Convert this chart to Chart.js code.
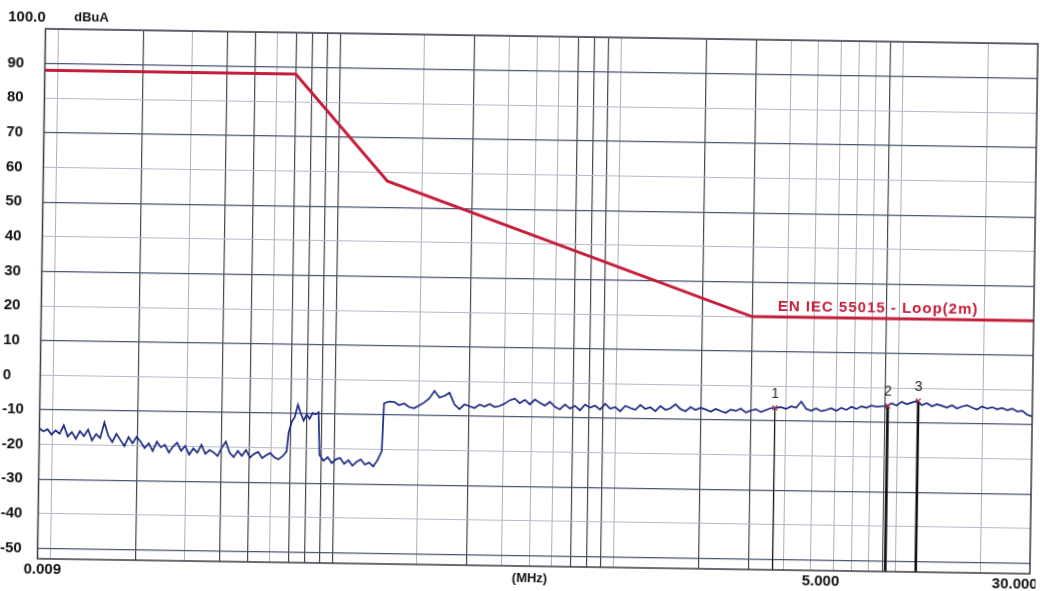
<!DOCTYPE html>
<html>
<head>
<meta charset="utf-8">
<script src="https://cdn.jsdelivr.net/npm/chart.js@4/dist/chart.umd.min.js"></script>
<style>
  html, body { margin: 0; padding: 0; background: #fff; overflow: hidden; }
  #wrap { width: 1040px; height: 591px; }
  /* the original is a slightly skewed scan */
  #grafica { transform: rotate(0.87deg); transform-origin: 50% 50%; }
</style>
</head>
<body>
<div id="wrap"><canvas id="grafica" width="1040" height="591"></canvas></div>
<script>
// ---------------------------------
// datos
// ---------------------------------
const limitFreqs = [0.009, 0.07, 0.15, 3, 30];          // MHz
const limitLevels = [88, 88, 57.5, 20, 20];              // dBuA
const limitName = 'EN IEC 55015 - Loop(2m)';

// barrido del receptor, por tramos (MHz)
const sweepA = [0.009, 0.068];
const levelsA = [-15.4, -16.2, -15.6, -17.1, -15.9, -16.8, -14.4, -17.6,
    -16.3, -18.2, -16.0, -17.4, -15.5, -18.6, -16.8, -17.9, -13.4,
    -17.2, -19.0, -16.6, -18.4, -20.1, -17.5, -19.3,
    -17.4, -18.8, -20.6, -19.2, -21.4, -18.7, -20.3, -19.6, -21.8, -20.0, -18.9,
    -21.2, -19.8, -22.3, -20.5, -21.7, -19.4, -22.0, -20.9, -21.5, -22.6, -20.2, -18.4,
    -21.6, -22.8, -21.0, -22.4, -20.7, -22.9, -21.8, -21.2, -23.0, -22.1, -21.5, -22.7, -23.3, -22.4, -21.0];
const sweepB = [0.069, 0.088];
const levelsB = [-15.5, -12.4, -11.0, -7.4, -9.9, -12.0, -10.2, -11.4, -9.7, -10.1, -9.5];
const sweepC = [0.089, 0.148];
const levelsC = [-21.8, -23.5, -22.4, -24.1, -23.0, -22.6, -24.3, -23.2, -24.8, -23.6, -22.9, -24.4, -23.8, -24.9, -23.1, -20.5];
const sweepD = [0.15, 30];
const levelsD = [-6.6, -6.1, -6.2, -7.1, -6.6, -7.6, -7.9, -7.1, -6.2, -5.0, -2.8, -4.7, -4.2, -3.3, -6.6, -8.0, -6.6, -7.1, -7.6, -6.6, -7.1, -6.4, -7.2, -6.9, -6.2,
    -5.2, -4.7, -6.0, -5.0, -6.3, -4.9, -5.8, -6.6, -5.5,
    -6.9, -7.6, -6.2, -7.3, -6.5, -7.8, -6.1, -7.0, -6.4, -7.5, -5.8, -7.2, -6.7, -7.9, -6.3, -6.9, -7.4, -6.0, -7.1, -6.6, -7.7, -6.2, -7.3, -6.8, -5.6, -7.0, -7.6, -6.4, -7.2, -6.5,
    -7.0, -7.6, -6.8, -7.4, -7.9, -6.9, -7.3, -6.6, -7.7, -7.1, -6.7, -7.5, -6.9, -6.3, -6.2,
    -6.0, -6.5, -5.7, -6.1, -4.3, -6.4, -6.9, -6.2, -7.0, -6.6, -6.1, -6.8, -5.9, -6.5, -5.6, -6.2, -5.4, -5.8, -5.1, -5.5, -5.3,
    -5.2, -4.4, -5.0, -3.9, -4.6, -4.1, -3.6, -4.8, -4.2, -5.1, -4.5,
    -4.9, -5.4, -4.7, -5.6, -5.0, -4.6, -5.3, -5.8, -4.9, -5.5, -5.1, -5.7,
    -5.3, -5.9, -5.4, -6.2, -6.0, -7.1, -7.6];

// marcadores
const markerFreqs = [3.66, 9.2, 11.8];
const markerLevels = [-6.2, -5.2, -3.6];

// ejes
const yTicks = [-50, -40, -30, -20, -10, 0, 10, 20, 30, 40, 50, 60, 70, 80, 90, 100];
const xGrid = [0.01, 0.02, 0.03, 0.04, 0.05, 0.06, 0.07, 0.08, 0.09,
    0.1, 0.2, 0.3, 0.4, 0.5, 0.6, 0.7, 0.8, 0.9,
    1, 2, 3, 4, 5, 6, 7, 8, 9, 10, 20];
const xLabels = ['0.009', '5.000', '30.000'];
const xLabelFreqs = [0.009, 5, 30];
const topLabel = '100.0';
const unitLabel = 'dBuA';
const xUnit = '(MHz)';

// lineas que salieron mas oscuras en la copia
const darkGrid = [0.02, 0.04, 0.05, 0.07, 0.08, 0.09, 0.1, 0.3, 0.7, 0.8, 0.9, 2, 3, 9];

const FONT = '"Liberation Sans", Arial, sans-serif';

// reparte los puntos de un tramo en escala log (paso del barrido)
function sweep(range, levels) {
    const lo = Math.log10(range[0]), hi = Math.log10(range[1]);
    return levels.map((v, i) => ({ x: Math.pow(10, lo + (hi - lo) * i / (levels.length - 1)), y: v }));
}

document.addEventListener('DOMContentLoaded', () => {
    try {
        const yMin = -53;
        const trace = [].concat(sweep(sweepA, levelsA), sweep(sweepB, levelsB), sweep(sweepC, levelsC), sweep(sweepD, levelsD));
        const limit = limitFreqs.map((f, i) => ({ x: f, y: limitLevels[i] }));

        const markerSets = markerFreqs.map((f, i) => ({
            data: [{ x: f, y: markerLevels[i] }, { x: f, y: yMin }],
            borderColor: '#111',
            borderWidth: i === 0 ? 1.3 : 2.6,
            pointRadius: [3.5, 0],
            pointStyle: 'crossRot',
            pointBorderColor: '#a8323f',
            pointBorderWidth: 1.3,
            order: 0
        }));

        const overlay = {
            id: 'overlay',
            afterDatasetsDraw(chart) {
                const { ctx, chartArea: a, scales: { x, y } } = chart;
                ctx.save();
                ctx.strokeStyle = '#3a3a44';
                ctx.lineWidth = 1.5;
                ctx.strokeRect(a.left, a.top, a.right - a.left, a.bottom - a.top);

                ctx.fillStyle = '#111';
                ctx.textBaseline = 'middle';
                ctx.textAlign = 'left';
                ctx.font = 'bold 15px ' + FONT;
                ctx.fillText(topLabel, 4, a.top - 11);
                ctx.font = 'bold 13px ' + FONT;
                ctx.fillText(unitLabel, 70, a.top - 12);

                ctx.font = 'bold 15px ' + FONT;
                ctx.textAlign = 'center';
                const shift = [5, 10, -15];
                xLabels.forEach((t, i) => {
                    ctx.fillText(t, x.getPixelForValue(xLabelFreqs[i]) + shift[i], a.bottom + 11);
                });
                ctx.font = 'bold 13px ' + FONT;
                ctx.fillText(xUnit, (a.left + a.right) / 2 - 4, a.bottom + 12);

                ctx.fillStyle = '#c41e3a';
                ctx.font = 'bold 15px ' + FONT;
                ctx.textAlign = 'left';
                ctx.letterSpacing = '1px';
                ctx.fillText(limitName, x.getPixelForValue(3.7), y.getPixelForValue(limitLevels[3]) - 10);
                ctx.letterSpacing = '0px';

                ctx.fillStyle = '#222';
                ctx.font = '14px ' + FONT;
                ctx.textAlign = 'center';
                markerFreqs.forEach((f, i) => {
                    ctx.fillText(String(i + 1), x.getPixelForValue(f), y.getPixelForValue(markerLevels[i]) - 14);
                });
                ctx.restore();
            }
        };

        new Chart(document.getElementById('grafica'), {
            type: 'line',
            data: {
                datasets: [
                    {
                        data: limit,
                        borderColor: '#c41e3a',
                        borderWidth: 3,
                        pointRadius: 0,
                        order: 1
                    },
                    {
                        data: trace,
                        borderColor: '#1a2882',
                        borderWidth: 1.7,
                        pointRadius: 0,
                        order: 2
                    },
                    ...markerSets
                ]
            },
            options: {
                responsive: false,
                animation: false,
                layout: { padding: { left: 4, top: 36, right: 6, bottom: 25 } },
                plugins: { legend: { display: false }, tooltip: { enabled: false } },
                scales: {
                    x: {
                        type: 'logarithmic',
                        min: 0.009,
                        max: 30,
                        afterBuildTicks: (s) => { s.ticks = xGrid.map(v => ({ value: v })); },
                        afterFit: (s) => { s.height = 0; },
                        ticks: { display: false },
                        border: { display: false },
                        grid: {
                            drawTicks: false,
                            color: (c) => darkGrid.includes(c.tick.value) ? '#45454f' : '#aeb0bb',
                            lineWidth: (c) => darkGrid.includes(c.tick.value) ? 1.2 : 1
                        }
                    },
                    y: {
                        min: yMin,
                        max: 100,
                        afterBuildTicks: (s) => { s.ticks = yTicks.map(v => ({ value: v })); },
                        afterFit: (s) => { s.width = 37.5; },
                        border: { display: false },
                        grid: {
                            drawTicks: false,
                            color: (c) => (Math.abs(c.tick.value) % 20 === 10) ? '#4b5572' : '#b6bac8',
                            lineWidth: (c) => (Math.abs(c.tick.value) % 20 === 10) ? 1.3 : 1
                        },
                        ticks: {
                            crossAlign: 'far',
                            padding: 0,
                            color: '#111',
                            font: { family: FONT, size: 15, weight: 'bold' },
                            callback: (v) => v === 100 ? '' : String(v)
                        }
                    }
                }
            },
            plugins: [overlay]
        });
    } catch (e) {
        console.error('Error al crear la gráfica:', e);
    }
});
</script>
</body>
</html>
